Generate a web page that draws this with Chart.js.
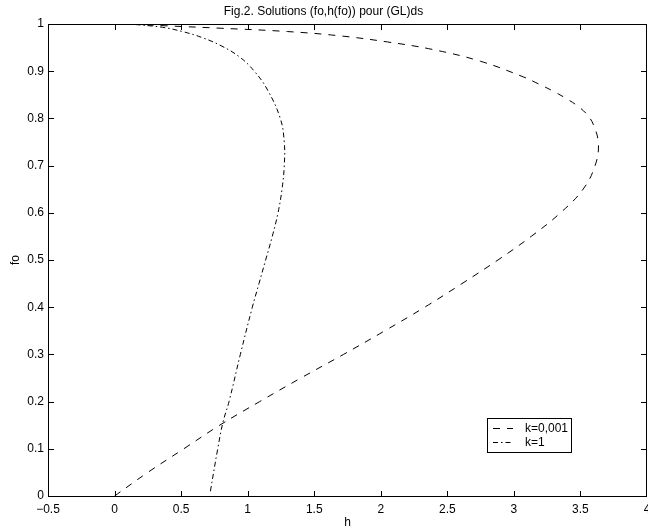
<!DOCTYPE html>
<html>
<head>
<meta charset="utf-8">
<script src="https://cdn.jsdelivr.net/npm/chart.js@4/dist/chart.umd.min.js"></script>
<style>
html,body{margin:0;padding:0;background:#fff;}
canvas{display:block;}
</style>
</head>
<body>
<canvas id="c" width="648" height="530"></canvas>
<script>
// ---- data ----
const titleText = 'Fig.2. Solutions (fo,h(fo)) pour (GL)ds';
const xLabel = 'h';
const yLabel = 'fo';
const seriesLabels = ['k=0,001', 'k=1'];

// k = 0,001 : h values and fo values (curve order)
const hK001 = [0, 0.25, 0.52, 0.79, 1.09, 1.40, 1.72, 2.03, 2.33, 2.61, 2.88, 3.13, 3.35, 3.52, 3.61, 3.635, 3.60, 3.55, 3.48, 3.40, 3.30, 3.20, 3.07, 2.75, 2.39, 2.05, 1.69, 1.30, 0.80, 0.40, 0.10];
const foK001 = [0, 0.05, 0.10, 0.15, 0.20, 0.25, 0.30, 0.35, 0.40, 0.45, 0.50, 0.55, 0.60, 0.65, 0.70, 0.745, 0.785, 0.808, 0.826, 0.841, 0.857, 0.871, 0.888, 0.921, 0.946, 0.962, 0.975, 0.984, 0.991, 0.996, 1.0];

// k = 1
const hK1 = [0.72, 0.775, 0.815, 0.86, 0.945, 1.035, 1.085, 1.135, 1.185, 1.228, 1.258, 1.275, 1.275, 1.245, 1.15, 1.05, 0.94, 0.80, 0.66, 0.51, 0.36, 0.19, 0.10];
const foK1 = [0.01, 0.10, 0.157, 0.20, 0.30, 0.40, 0.45, 0.50, 0.55, 0.60, 0.65, 0.70, 0.75, 0.80, 0.86, 0.90, 0.93, 0.954, 0.971, 0.984, 0.993, 0.998, 1.0];

const xMin = -0.5, xMax = 4, xStep = 0.5;
const yMin = 0, yMax = 1, yStep = 0.1;

// ---- helpers ----
const toPts = (xs, ys) => xs.map((x, i) => ({x: x, y: ys[i]}));
const FONT = '"Liberation Sans", Arial, Helvetica, sans-serif';

const frameAndLegend = {
  id: 'frameAndLegend',
  afterDraw(chart) {
    const {ctx, chartArea: a, scales: {x, y}} = chart;
    const L = Math.round(a.left), R = Math.round(a.right) - 1;
    const T = Math.round(a.top), B = Math.round(a.bottom);
    ctx.save();
    ctx.setLineDash([]);
    ctx.fillStyle = '#000';
    // axes box
    ctx.fillRect(L, T, R - L + 1, 1);
    ctx.fillRect(L, B, R - L + 1, 1);
    ctx.fillRect(L, T, 1, B - T + 1);
    ctx.fillRect(R, T, 1, B - T + 1);
    // inward tick marks on all four sides
    x.ticks.forEach(t => {
      const px = Math.min(Math.round(x.getPixelForValue(t.value)), R);
      ctx.fillRect(px, B - 5, 1, 5);
      ctx.fillRect(px, T + 1, 1, 5);
    });
    y.ticks.forEach(t => {
      const py = Math.min(Math.round(y.getPixelForValue(t.value)), B);
      ctx.fillRect(L + 1, py, 5, 1);
      ctx.fillRect(R - 5, py, 5, 1);
    });

    // legend box inside the axes
    const bw = 84, bh = 34;
    const bx = Math.round(a.right - 76 - bw);
    const by = Math.round(a.bottom - 44 - bh);
    ctx.fillStyle = '#fff';
    ctx.fillRect(bx, by, bw, bh);
    ctx.strokeStyle = '#000';
    ctx.lineWidth = 1;
    ctx.strokeRect(bx + 0.5, by + 0.5, bw, bh);
    ctx.font = '12px ' + FONT;
    ctx.textBaseline = 'middle';
    ctx.textAlign = 'left';
    chart.data.datasets.forEach((ds, i) => {
      const ry = by + 10.5 + i * 14;
      ctx.save();
      ctx.setLineDash(ds.borderDash || []);
      ctx.lineWidth = ds.borderWidth;
      ctx.strokeStyle = ds.borderColor;
      ctx.beginPath();
      ctx.moveTo(bx + 6, ry); ctx.lineTo(bx + 26, ry);
      ctx.stroke();
      ctx.restore();
      ctx.fillStyle = '#000';
      ctx.fillText(ds.label, bx + 38, ry);
    });
    ctx.restore();
  }
};

const fmt = v => {
  const s = (Math.round(v * 1000) / 1000).toString();
  return s.replace('-', '\u2212');
};

new Chart(document.getElementById('c'), {
  type: 'line',
  data: {
    datasets: [
      {
        label: seriesLabels[0],
        data: toPts(hK001, foK001),
        borderColor: '#000',
        borderWidth: 1,
        borderDash: [7, 7],
        pointRadius: 0,
        tension: 0.4,
        fill: false
      },
      {
        label: seriesLabels[1],
        data: toPts(hK1, foK1),
        borderColor: '#000',
        borderWidth: 1,
        borderDash: [5, 3, 1.5, 3],
        pointRadius: 0,
        tension: 0.4,
        fill: false
      }
    ]
  },
  options: {
    responsive: false,
    animation: false,
    devicePixelRatio: 1,
    layout: {padding: {left: 0, right: 1, top: 0, bottom: 0}},
    plugins: {
      legend: {display: false},
      tooltip: {enabled: false},
      title: {
        display: true,
        text: titleText,
        color: '#000',
        font: {family: FONT, size: 12, weight: 'normal'},
        padding: {top: 4, bottom: 5.6}
      }
    },
    scales: {
      x: {
        type: 'linear',
        min: xMin, max: xMax,
        grid: {display: false, drawTicks: false},
        border: {display: false},
        ticks: {
          stepSize: xStep,
          color: '#000',
          padding: 6,
          maxRotation: 0,
          autoSkip: false,
          font: {family: FONT, size: 12},
          callback: v => fmt(v)
        },
        title: {
          display: true, text: xLabel, color: '#000',
          font: {family: FONT, size: 12},
          padding: {top: 0, bottom: 0}
        },
        afterFit(s) { s.height = 34; s.paddingLeft = 0; s.paddingRight = 0; }
      },
      y: {
        type: 'linear',
        min: yMin, max: yMax,
        grid: {display: false, drawTicks: false},
        border: {display: false},
        ticks: {
          stepSize: yStep,
          color: '#000',
          padding: 4,
          autoSkip: false,
          font: {family: FONT, size: 12},
          callback: v => fmt(v)
        },
        title: {
          display: true, text: yLabel, color: '#000',
          font: {family: FONT, size: 12},
          padding: {top: 8, bottom: 0}
        },
        afterFit(s) { s.width = 48; s.paddingTop = 0; s.paddingBottom = 0; }
      }
    }
  },
  plugins: [frameAndLegend]
});
</script>
</body>
</html>
